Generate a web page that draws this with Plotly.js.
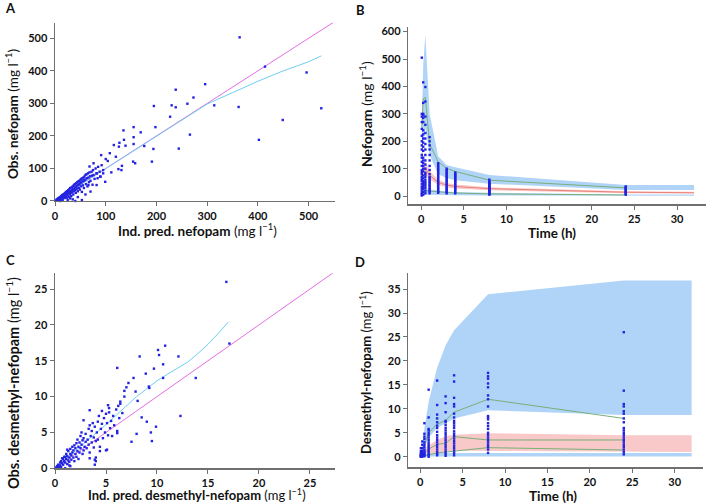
<!DOCTYPE html>
<html><head><meta charset="utf-8">
<script src="https://cdn.plot.ly/plotly-3.0.1.min.js"></script>
<style>html,body{margin:0;padding:0;background:#fff}#chart{width:707px;height:503px}</style>
</head><body><div id="chart"></div>
<script>
// ---------- Panel A: observed vs individual predicted nefopam ----------
const predA = [2,3,4,5,5,6,7,8,8,9,10,10,11,12,12,13,14,14,15,16,16,17,18,18,19,20,20,21,22,22,23,24,24,25,26,26,27,28,28,29,30,30,31,32,33,33,34,35,35,36,37,37,38,39,40,40,41,42,42,43,44,44,45,46,46,47,48,48,49,50,50,51,52,52,53,54,54,55,56,56,57,58,58,60,60,61,62,63,64,65,66,67,68,69,70,72,73,74,75,76,78,80,82,84,85,88,90,92,95,
  10,15,25,35,40,53,45,30,60,
  195,238,273,296,230,238,261,314,362,525,449,402,266,244,227,198,194,191,176,169,155,155,155,154,158,135,136,139,127,126,116,120,132,131,108,100,91,111,125,104,95,99,82,76,68,89,70,66,82,364,414,496];
const obsA = [1,4,2,6,3,8,5,10,4,7,12,8,3,15,10,9,18,12,6,20,14,11,22,16,9,25,18,14,28,20,10,30,22,17,33,25,12,36,27,20,40,30,24,15,42,33,27,45,36,20,48,38,30,52,42,34,25,55,45,38,58,48,30,60,50,40,62,52,35,65,55,45,68,57,28,70,60,48,72,62,40,75,64,80,66,52,82,70,45,85,72,58,88,76,62,90,78,50,95,80,68,100,85,70,105,90,75,110,85,
  0,1,3,5,0,3,12,8,20,
  292,342,318,359,294,288,299,294,289,285,249,188,204,161,259,227,160,121,169,211,227,196,175,121,116,217,188,170,179,167,172,136,108,95,147,129,141,88,98,123,95,59,85,116,106,75,29,49,49,503,413,395];
const identityA = [0, 552];
const loessPredA = [0,100,200,250,300,350,400,450,500,525];
const loessObsA  = [0,100,200,250,298,333,368,400,428,446];

// ---------- Panel B: nefopam VPC ----------
const bandTimes = [0.083,0.25,0.5,1,2,3,4,8,24,32];
const obsTimes  = [0.083,0.25,0.5,1,2,3,4,8,24];
const bHiLo = [110,190,250,150,80,66,58,45,22,22];
const bHiHi = [260,480,590,300,145,113,105,77,40,40];
const bMedLo = [55,75,80,62,40,32,28,21,10,9];
const bMedHi = [85,115,125,92,60,48,42,32,18,16];
const bLoLo = [2,4,6,5,4,3,3,2,1,1];
const bLoHi = [15,20,26,24,20,17,15,12,6,6];
const bSimMed = [70,95,102,76,50,40,35,27,14,12];
const bObsHi = [250,355,360,190,125,101,90,58,30];
const bObsLo = [5,12,20,18,15,13,11,8,4];
const obsB = {
  0.083:[2,6,12,20,28,35,45,55,62,70,80,88,95,110,125,140,150,170,185,200,220,245,270,290,300,505],
  0.25:[5,15,25,33,40,48,55,65,75,90,100,110,120,130,140,165,180,195,210,225,240,270,285,295,300,340,415],
  0.5:[10,20,30,38,45,52,60,70,78,85,100,115,130,150,170,190,210,230,260,290,345,398],
  1:[10,16,20,26,30,36,40,46,50,56,60,66,70,80,95,110,130,150,170,185,200,215],
  2:[12,16,20,25,30,35,40,45,50,55,60,65,70,75,80,85,90,95,100,105,110,115,120],
  3:[10,14,18,22,26,30,35,40,45,50,55,60,65,70,75,80,85,90,95,100],
  4:[10,15,20,24,28,32,36,40,45,49,52,56,60,64,68,72,75,79,82,86],
  8:[5,8,10,13,15,18,20,23,25,28,30,33,35,38,40,43,45,48,50,55,60],
  24:[5,8,10,13,15,18,20,23,25,28,30,33,35]
};

// ---------- Panel C: observed vs individual predicted desmethyl-nefopam ----------
const predC = [0.1,0.2,0.3,0.3,0.4,0.5,0.5,0.6,0.6,0.7,0.8,0.8,0.9,1.0,1.0,1.1,1.1,1.2,1.2,1.3,1.3,1.4,1.4,1.5,1.5,1.6,1.6,1.7,1.7,1.8,1.8,1.9,1.9,2.0,2.0,2.1,2.1,2.2,2.2,2.3,2.3,2.4,2.4,2.5,2.5,2.6,2.6,2.7,2.7,2.8,2.8,2.9,3.0,3.0,3.1,3.2,3.3,3.3,3.4,3.4,3.5,3.6,3.6,3.7,3.8,3.8,3.9,4.0,4.0,4.1,4.2,4.2,4.3,4.4,4.5,4.6,4.7,4.8,4.9,5.0,5.0,5.1,5.2,5.3,5.4,5.5,5.6,5.7,5.8,6.0,6.1,6.3,6.4,6.6,6.8,
  0.2,0.5,1.0,1.5,3.9,4.0,0.1,0.3,0.7,1.2,0.9,1.4,
  16.8,17.1,13.8,12.3,12.1,10.8,10.1,10.2,10.6,10.6,9.7,9.2,9.25,8.9,8.3,6.1,7.7,7.2,7.0,6.8,7.9,8.1,8.5,9.0,9.9,9.4,9.5,8.0,7.5,6.4,6.2,5.2,5.3,4.6,3.4,6.1,5.1,4.4,3.9,3.4,2.8];
const obsC = [0.1,0.3,0.1,0.5,0.2,0.8,0.4,1.0,0.2,0.7,1.3,0.5,1.0,1.6,0.8,1.3,2.0,0.6,1.7,1.1,2.4,1.5,0.9,2.0,2.7,1.2,1.8,2.2,3.0,1.5,2.5,1.0,3.2,2.0,2.8,3.5,1.6,2.4,4.0,3.0,1.3,2.2,3.6,4.5,2.8,3.3,5.0,2.0,3.9,4.2,2.5,3.0,3.7,4.8,2.8,4.0,5.5,3.3,6.0,2.2,4.5,3.6,5.2,6.3,2.9,4.3,5.8,1.5,3.8,5.0,6.5,4.0,7.3,3.0,5.5,6.2,4.2,7.0,5.0,7.6,2.5,6.3,4.6,7.8,5.6,6.6,4.5,7.3,6.0,8.2,5.2,7.0,9.0,7.7,10.0,
  0,0,0,0.3,0.5,1.0,0,0,1.4,2.6,1.6,0.4,
  26.0,17.4,12.6,7.3,15.6,17.1,16.5,15.8,14.5,12.6,13.9,11.4,11.2,13.2,15.6,14.0,12.6,11.9,11.3,10.8,10.7,9.4,7.1,6.5,5.8,5.0,3.8,4.8,3.7,9.3,8.7,8.8,8.4,8.0,8.1,4.9,2.6,2.4,1.2,1.4,6.7];
const identityC = [0, 27.45];
const loessPredC = [0,1,2,3,4,5,6,7,8,9,10,11,12,13,14,15,16,17];
const loessObsC  = [0,1.2,2.4,3.6,4.9,6.1,7.4,8.7,10.0,11.1,12.2,13.1,13.9,14.8,16.0,17.3,18.8,20.4];

// ---------- Panel D: desmethyl-nefopam VPC ----------
const dHiLo = [0.3,0.8,2.0,4.0,6.0,7.0,8.0,9.7,8.7,8.7];
const dHiHi = [0.8,2.5,6.0,11.5,18.6,23.3,26.4,33.9,36.8,36.8];
const dMedLo = [0.1,0.2,0.3,0.4,0.7,1.0,1.3,1.2,1.05,1.0];
const dMedHi = [0.4,0.9,1.6,2.4,3.5,4.3,4.6,4.9,4.5,4.5];
const dLoLo = [0.05,0.05,0.05,0.05,0.05,0.05,0.05,0.05,0.05,0.05];
const dLoHi = [0.3,0.5,0.6,0.7,0.8,0.8,0.8,0.8,0.8,0.8];
const dObsHi = [0.4,1.2,2.5,5.0,6.8,7.6,9.3,12.0,8.0];
const dObsMed = [0.1,0.3,0.8,1.6,2.6,2.8,4.2,3.5,3.5];
const dObsLo = [0.0,0.1,0.2,0.4,0.8,1.0,1.2,1.9,1.4];
const obsD = {
  0.083:[0,0.1,0.2,0.3,0.5,0.8,1.2,1.8],
  0.25:[0,0.2,0.4,0.6,0.9,1.2,1.8,2.5,3.2],
  0.5:[0.1,0.3,0.5,0.8,1.1,1.5,2,2.5,3,3.7,4.2,4.8,7.0],
  1:[0,0.3,0.6,1,1.4,1.8,2.2,2.6,3,3.5,4,4.5,5,5.5,5.8,8.2,14.0],
  2:[0.3,0.6,1,1.5,2,2.5,3,3.5,4,4.5,5.2,6,6.5,7.2,8,8.8,10.8,15.9],
  3:[0.2,0.6,1,1.5,2,2.5,3,3.5,4,4.5,5,5.5,6,6.6,7.2,7.5,9.3,11.2,12.6],
  4:[0.3,0.8,1.3,1.8,2.3,2.8,3.3,3.8,4.3,4.8,5.3,6,6.5,7,7.5,8.2,9,10.5,11,12.3,15.7,17.0],
  8:[0.8,1.5,2,2.5,3,3.5,4,4.5,5,5.8,6.4,7,7.8,8.2,8.5,10.5,12,12.8,14.5,15.3,16.3,16.8,17.5],
  24:[0.5,1,1.5,2,2.5,3,3.5,4,4.5,5,5.5,6,7.2,8,9,9.5,10.5,11,13.8,26]
};

// ---------- text ----------
const unit = ' (mg l<sup>−1</sup>)';
const titleA_x = '<b>Ind. pred. nefopam</b>' + unit;
const titleA_y = '<b>Obs. nefopam</b>' + unit;
const titleB_x = '<b>Time (h)</b>';
const titleB_y = '<b>Nefopam</b>' + unit;
const titleC_x = '<b>Ind. pred. desmethyl-nefopam</b>' + unit;
const titleC_y = '<b>Obs. desmethyl-nefopam</b>' + unit;
const titleD_x = '<b>Time (h)</b>';
const titleD_y = '<b>Desmethyl-nefopam</b>' + unit;
const panelLabels = ['A','B','C','D'];

// ---------- styles ----------
const DOT = {color:'rgb(35,35,225)', size:2.4, symbol:'square'};
const BLUE = 'rgb(176,212,248)';
const PINK = 'rgb(249,200,200)';
const GREEN = 'rgb(120,175,120)';
const MAG = 'rgb(228,110,228)';
const CYAN = 'rgb(110,205,240)';
const FONT = 'Lato, "Open Sans", sans-serif';

function flatten(obj){
  const xs=[], ys=[];
  Object.keys(obj).forEach(k=>{obj[k].forEach(v=>{xs.push(parseFloat(k)); ys.push(v);});});
  return {xs, ys};
}
function band(x, lo, hi, color, xa, ya){
  return [
    {x:x, y:lo, xaxis:xa, yaxis:ya, mode:'lines', line:{width:0,color:color}, hoverinfo:'skip', showlegend:false},
    {x:x, y:hi, xaxis:xa, yaxis:ya, mode:'lines', line:{width:0,color:color}, fill:'tonexty', fillcolor:color, hoverinfo:'skip', showlegend:false}
  ];
}
function line(x, y, color, xa, ya){
  return {x:x, y:y, xaxis:xa, yaxis:ya, mode:'lines', line:{width:1,color:color}, showlegend:false};
}
const fb = flatten(obsB), fd = flatten(obsD);

const traces = [
  line(identityA, identityA, MAG, 'x', 'y'),
  line(loessPredA, loessObsA, CYAN, 'x', 'y'),
  {x:predA, y:obsA, xaxis:'x', yaxis:'y', mode:'markers', marker:DOT, cliponaxis:false, showlegend:false},
  ...band(bandTimes, bHiLo, bHiHi, BLUE, 'x2', 'y2'),
  ...band(bandTimes, bMedLo, bMedHi, PINK, 'x2', 'y2'),
  ...band(bandTimes, bLoLo, bLoHi, BLUE, 'x2', 'y2'),
  line(bandTimes, bSimMed, 'rgb(232,130,120)', 'x2', 'y2'),
  line(obsTimes, bObsHi, GREEN, 'x2', 'y2'),
  line(obsTimes, bObsLo, GREEN, 'x2', 'y2'),
  {x:fb.xs, y:fb.ys, xaxis:'x2', yaxis:'y2', mode:'markers', marker:DOT, cliponaxis:false, showlegend:false},
  line(identityC, identityC, MAG, 'x3', 'y3'),
  line(loessPredC, loessObsC, CYAN, 'x3', 'y3'),
  {x:predC, y:obsC, xaxis:'x3', yaxis:'y3', mode:'markers', marker:DOT, cliponaxis:false, showlegend:false},
  ...band(bandTimes, dHiLo, dHiHi, BLUE, 'x4', 'y4'),
  ...band(bandTimes, dMedLo, dMedHi, PINK, 'x4', 'y4'),
  ...band(bandTimes, dLoLo, dLoHi, BLUE, 'x4', 'y4'),
  line(obsTimes, dObsHi, GREEN, 'x4', 'y4'),
  line(obsTimes, dObsMed, GREEN, 'x4', 'y4'),
  line(obsTimes, dObsLo, GREEN, 'x4', 'y4'),
  {x:fd.xs, y:fd.ys, xaxis:'x4', yaxis:'y4', mode:'markers', marker:DOT, cliponaxis:false, showlegend:false}
];

function ax(extra){
  return Object.assign({
    showgrid:false, zeroline:false, showline:true, linecolor:'#707070', linewidth:1.5,
    ticks:'outside', ticklen:4, tickwidth:1, tickcolor:'#707070',
    tickfont:{family:FONT, size:11, color:'#111', weight:'bold'},
    fixedrange:true
  }, extra);
}
function note(text, px, py, angle, size){
  return {text:text, xref:'paper', yref:'paper', x:px/707, y:1-py/503, xanchor:'center', yanchor:'middle',
    textangle:angle||0, showarrow:false, font:{family:FONT, size:size||13, color:'#111'}};
}
const layout = {
  width:707, height:503, margin:{l:0,r:0,t:0,b:0},
  paper_bgcolor:'#fff', plot_bgcolor:'#fff', showlegend:false,
  xaxis: ax({domain:[0.0778,0.4738], range:[0,552], dtick:100, anchor:'y'}),
  yaxis: ax({domain:[0.6004,0.9549], range:[0,548], dtick:100, anchor:'x'}),
  xaxis2: ax({domain:[0.5775,0.9986], range:[-1.5,33.4], dtick:5, anchor:'y2'}),
  yaxis2: ax({domain:[0.5944,0.9469], range:[-29,618], dtick:100, anchor:'x2'}),
  xaxis3: ax({domain:[0.0778,0.4738], range:[0,27.45], dtick:5, anchor:'y3'}),
  yaxis3: ax({domain:[0.0690,0.4567], range:[0,27.2], dtick:5, anchor:'x3'}),
  xaxis4: ax({domain:[0.5775,0.9939], range:[-1.4,33.3], dtick:5, anchor:'y4'}),
  yaxis4: ax({domain:[0.0710,0.4567], range:[-2.2,38.3], dtick:5, anchor:'x4'}),
  annotations: [
    note(titleA_x, 197, 230, 0, 13.5),
    note(titleA_y, 12, 114, -90, 13.5),
    note(titleB_x, 552, 233, 0, 13.5),
    note(titleB_y, 365, 114, -90, 14),
    note(titleC_x, 197, 494, 0, 13),
    note(titleC_y, 12, 383, -90, 14.5),
    note(titleD_x, 553, 496, 0, 13.5),
    note(titleD_y, 365, 372, -90, 13),
    note('<b>'+panelLabels[0]+'</b>', 10, 8, 0, 13),
    note('<b>'+panelLabels[1]+'</b>', 360, 10, 0, 13),
    note('<b>'+panelLabels[2]+'</b>', 10, 260, 0, 13),
    note('<b>'+panelLabels[3]+'</b>', 360, 262, 0, 13)
  ]
};
Plotly.newPlot('chart', traces, layout, {staticPlot:true, displayModeBar:false});
</script>
</body></html>
